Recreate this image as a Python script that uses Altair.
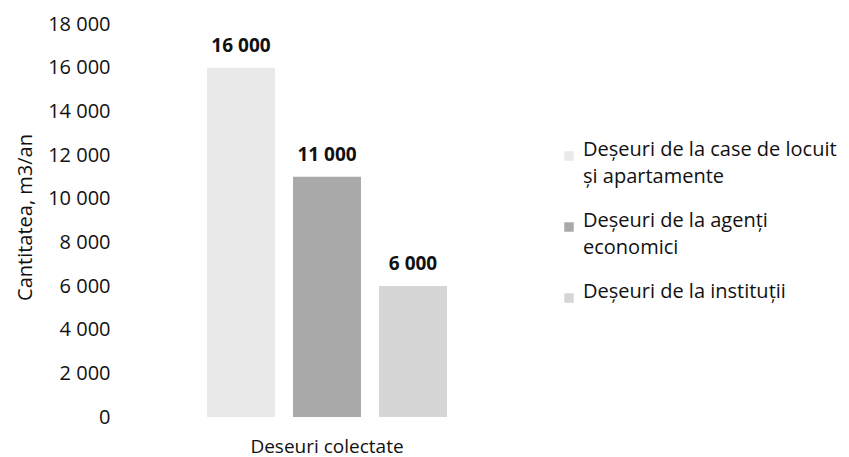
import altair as alt
import pandas as pd

categories = ["Deseuri colectate"]
series = [
    "Deșeuri de la case de locuit și apartamente",
    "Deșeuri de la agenți economici",
    "Deșeuri de la instituții",
]
values = [16000, 11000, 6000]
value_labels = ["16 000", "11 000", "6 000"]
colors = ["#e9e9e9", "#a9a9a9", "#d6d6d6"]
y_ticks = [0, 2000, 4000, 6000, 8000, 10000, 12000, 14000, 16000, 18000]

df = pd.DataFrame({
    "cat": categories * len(series),
    "series": series,
    "value": values,
    "label": value_labels,
})

FONT = "Open Sans"

label_expr = (
    "datum.label == 'Deșeuri de la case de locuit și apartamente' ? "
    "['Deșeuri de la case de locuit', 'și apartamente'] : "
    "datum.label == 'Deșeuri de la agenți economici' ? "
    "['Deșeuri de la agenți', 'economici'] : datum.label"
)

x = alt.X("cat:N", title=None,
          scale=alt.Scale(paddingInner=0, paddingOuter=0),
          axis=alt.Axis(labelAngle=0, domain=False, ticks=False,
                        labelFontSize=19, labelFont=FONT, labelColor="#111",
                        labelPadding=20))
xoff = alt.XOffset("series:N", sort=series,
                   scale=alt.Scale(paddingInner=0.21, paddingOuter=0))
y = alt.Y("value:Q", title="Cantitatea, m3/an",
          scale=alt.Scale(domain=[0, 18000]),
          axis=alt.Axis(values=y_ticks, domain=False, ticks=False, grid=False,
                        labelExpr="replace(format(datum.value, ','), ',', ' ')",
                        labelFontSize=20, labelFont=FONT, labelColor="#111",
                        labelPadding=97,
                        titleFontSize=20, titleFont=FONT, titleFontWeight="normal",
                        titleColor="#111", titleX=-182, titleY=193,
                        titleBaseline="middle", titleAngle=-90))

bars = alt.Chart(df).mark_bar().encode(
    x=x, xOffset=xoff, y=y,
    color=alt.Color("series:N", sort=series,
                    scale=alt.Scale(domain=series, range=colors),
                    legend=alt.Legend(title=None, orient="none",
                                      legendX=352, legendY=122,
                                      symbolType="square", symbolSize=90,
                                      symbolStrokeWidth=0,
                                      labelFont=FONT, labelFontSize=20,
                                      labelColor="#111", labelLimit=400,
                                      labelExpr=label_expr,
                                      labelBaseline="alphabetic",
                                      labelOffset=4, rowPadding=24)),
)

texts = alt.Chart(df).mark_text(
    baseline="alphabetic", dy=-16, font=FONT, fontSize=19, fontWeight="bold", color="#111"
).encode(x=alt.X("cat:N"), xOffset=alt.XOffset("series:N", sort=series), y="value:Q", text="label:N")

chart = alt.layer(bars, texts).properties(
    width=240, height=393,
    background="white",
    autosize=alt.AutoSizeParams(type="none"),
    padding={"left": 199, "top": 16, "right": 394, "bottom": 46},
).configure(
    style={"guide-label": {"lineHeight": 27}},
).configure_view(stroke="transparent", strokeWidth=0)

chart.save("out.html", embed_options={"renderer": "svg", "actions": False})
